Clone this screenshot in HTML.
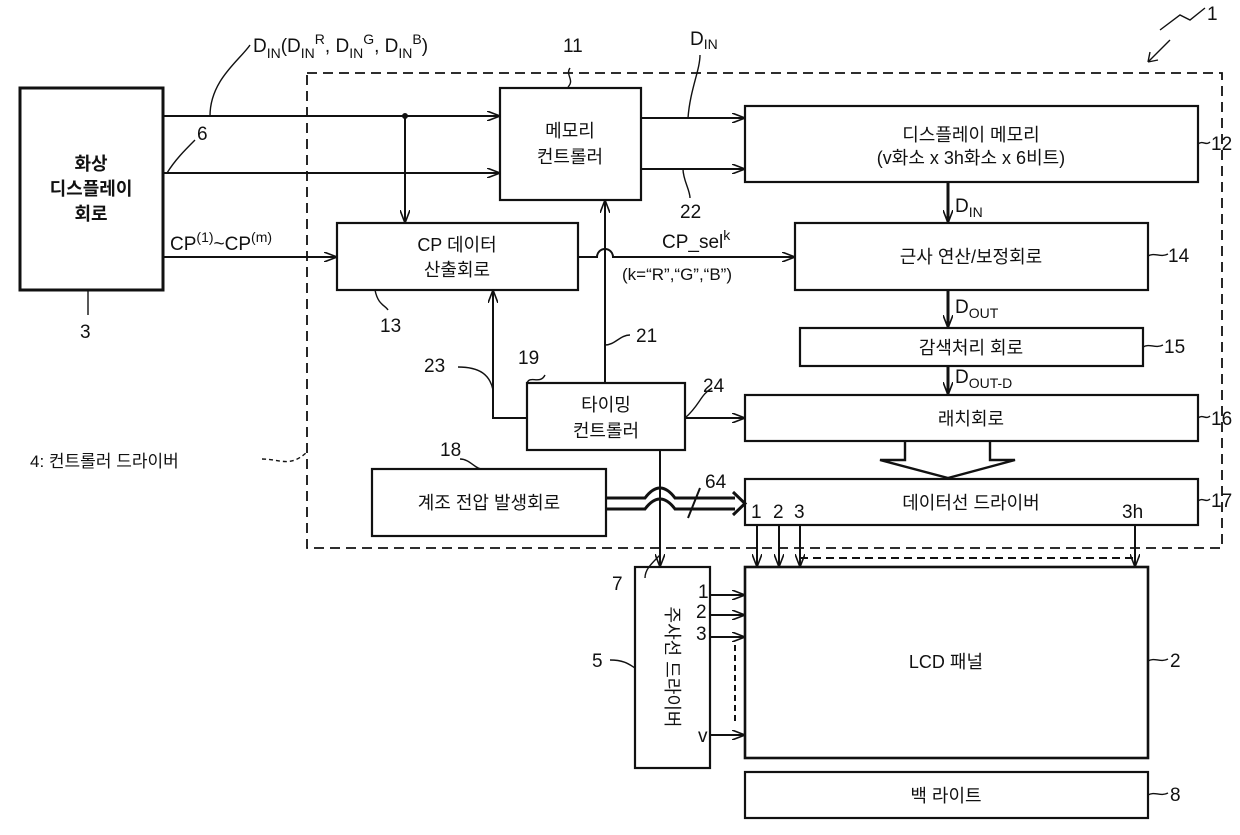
<!DOCTYPE html>
<html><head><meta charset="utf-8"><style>
body{margin:0;background:#fff}
svg{display:block}
text{font-family:"Liberation Sans","Noto Sans CJK KR",sans-serif;fill:#111}
.k{font-size:18px}
.n{font-size:19px;font-family:"Liberation Sans Narrow","Liberation Sans",sans-serif}
</style></head><body>
<svg width="1240" height="835" viewBox="0 0 1240 835" xmlns="http://www.w3.org/2000/svg">
<defs>
<marker id="a" markerWidth="14" markerHeight="10" refX="13" refY="5" orient="auto" markerUnits="userSpaceOnUse">
<path d="M0,0 L13,5 L0,10" fill="none" stroke="#111" stroke-width="1.6"/></marker>
</defs>
<g fill="none" stroke="#111" stroke-width="2.2">
<rect x="307" y="73" width="915" height="475" stroke-dasharray="10,6" stroke-width="1.8"/>
<rect x="20" y="88" width="143" height="202" stroke-width="3"/>
<rect x="500" y="88" width="141" height="112"/>
<rect x="745" y="106" width="453" height="76"/>
<rect x="337" y="223" width="241" height="67"/>
<rect x="795" y="223" width="353" height="67"/>
<rect x="800" y="328" width="343" height="38"/>
<rect x="745" y="395" width="453" height="46"/>
<rect x="527" y="383" width="158" height="67"/>
<rect x="372" y="469" width="234" height="67"/>
<rect x="745" y="479" width="453" height="46"/>
<rect x="745" y="567" width="403" height="191" stroke-width="2.6"/>
<rect x="635" y="567" width="75" height="201"/>
<rect x="745" y="772" width="403" height="46"/>
</g>
<g fill="none" stroke="#111" stroke-width="2">
<path d="M163,116 H500" marker-end="url(#a)"/>
<path d="M163,173 H500" marker-end="url(#a)"/>
<circle cx="405" cy="116" r="2" fill="#111"/>
<path d="M405,116 V223" marker-end="url(#a)"/>
<path d="M641,118 H745" marker-end="url(#a)"/>
<path d="M641,169 H745" marker-end="url(#a)"/>
<path d="M163,257 H337" marker-end="url(#a)"/>
<path d="M578,257 H597 A8,8 0 0 1 613,257 H795" marker-end="url(#a)"/>
<path d="M605,383 V200" marker-end="url(#a)"/>
<path d="M527,418 H493 V290" marker-end="url(#a)"/>
<path d="M685,418 H745" marker-end="url(#a)"/>
<path d="M660,450 V567" marker-end="url(#a)"/>
<path d="M948,182 V223" marker-end="url(#a)" stroke-width="3"/>
<path d="M948,290 V328" marker-end="url(#a)" stroke-width="3"/>
<path d="M948,366 V395" marker-end="url(#a)" stroke-width="3"/>
<path d="M905,441 V460 H880 L948,478 L1015,460 H990 V441" stroke-width="2.4"/>
<path d="M606,498 H645 Q660,478 675,498 H735 M606,509 H645 Q660,489 675,509 H735" stroke-width="3"/>
<path d="M733,492 L745,503.5 L733,515" stroke-width="3"/>
<path d="M688,518 L700,488"/>
<path d="M757,525 V567" marker-end="url(#a)"/>
<path d="M779,525 V567" marker-end="url(#a)"/>
<path d="M800,525 V567" marker-end="url(#a)"/>
<path d="M1135,525 V567" marker-end="url(#a)"/>
<path d="M800,558 H1135" stroke-dasharray="8,5"/>
<path d="M710,595 H745" marker-end="url(#a)"/>
<path d="M710,615 H745" marker-end="url(#a)"/>
<path d="M710,637 H745" marker-end="url(#a)"/>
<path d="M710,735 H745" marker-end="url(#a)"/>
<path d="M735,645 V725" stroke-dasharray="6,4"/>
</g>
<g fill="none" stroke="#111" stroke-width="1.4">
<path d="M210,116 C210,80 240,60 250,45"/>
<path d="M167,173 C175,160 185,150 195,140"/>
<path d="M568,87 C575,80 565,75 570,68"/>
<path d="M688,118 C690,90 700,70 700,55"/>
<path d="M683,169 C683,180 690,190 690,198"/>
<path d="M88,290 V315"/>
<path d="M375,290 C378,305 385,305 388,310"/>
<path d="M1198,144 C1203,140 1206,146 1210,142"/>
<path d="M1148,256 C1155,252 1160,258 1168,254"/>
<path d="M1143,347 C1150,343 1155,349 1163,345"/>
<path d="M1198,418 C1203,414 1206,420 1210,416"/>
<path d="M1198,501 C1203,497 1206,503 1210,499"/>
<path d="M1148,661 C1155,657 1160,663 1168,659"/>
<path d="M1148,795 C1155,791 1160,797 1168,793"/>
<path d="M605,345 C615,345 620,335 630,335"/>
<path d="M458,367 C480,367 490,375 493,390"/>
<path d="M527,383 C530,375 540,385 545,375"/>
<path d="M685,418 C700,405 700,395 712,388"/>
<path d="M460,459 C470,459 475,469 482,469"/>
<path d="M660,555 C650,565 645,570 645,578"/>
<path d="M610,660 C625,660 630,665 635,668"/>
<path d="M262,459 C280,459 290,468 307,452" stroke-dasharray="4,3"/>
<path d="M1160,30 L1180,15 L1190,20 L1205,8"/>
<path d="M1148,62 L1170,40 M1148,62 L1150,52 M1148,62 L1158,60"/>
</g>
<g class="k" text-anchor="middle" font-weight="bold">
<text x="91" y="170">화상</text><text x="91" y="195">디스플레이</text><text x="91" y="220">회로</text>
</g>
<g class="k" text-anchor="middle">
<text x="570" y="137">메모리</text><text x="570" y="163">컨트롤러</text>
<text x="971" y="141">디스플레이 메모리</text><text x="971" y="164">(v화소 x 3h화소 x 6비트)</text>
<text x="457" y="251">CP 데이터</text><text x="457" y="276">산출회로</text>
<text x="971" y="263">근사 연산/보정회로</text>
<text x="971" y="354">감색처리 회로</text>
<text x="971" y="425">래치회로</text>
<text x="606" y="411">타이밍</text><text x="606" y="437">컨트롤러</text>
<text x="489" y="509">계조 전압 발생회로</text>
<text x="971" y="509">데이터선 드라이버</text>
<text x="946" y="668">LCD 패널</text>
<text x="946" y="802">백 라이트</text>
<text x="666" y="667" transform="rotate(90 666 667)">주사선 드라이버</text>
</g>
<g class="n">
<text x="253" y="52">D<tspan font-size="14" dy="6">IN</tspan><tspan dy="-6">(D</tspan><tspan font-size="14" dy="6">IN</tspan><tspan font-size="14" dy="-14">R</tspan><tspan dy="8">, D</tspan><tspan font-size="14" dy="6">IN</tspan><tspan font-size="14" dy="-14">G</tspan><tspan dy="8">, D</tspan><tspan font-size="14" dy="6">IN</tspan><tspan font-size="14" dy="-14">B</tspan><tspan dy="8">)</tspan></text>
<text x="563" y="52">11</text>
<text x="690" y="45">D<tspan font-size="14" dy="4">IN</tspan></text>
<text x="197" y="140">6</text>
<text x="680" y="218">22</text>
<text x="170" y="250">CP<tspan font-size="14" dy="-8">(1)</tspan><tspan dy="8">~CP</tspan><tspan font-size="14" dy="-8">(m)</tspan></text>
<text x="662" y="248">CP_sel<tspan font-size="14" dy="-8">k</tspan></text>
<text x="622" y="280" font-size="17">(k=“R”,“G”,“B”)</text>
<text x="955" y="212">D<tspan font-size="14" dy="5">IN</tspan></text>
<text x="955" y="313">D<tspan font-size="14" dy="5">OUT</tspan></text>
<text x="955" y="383">D<tspan font-size="14" dy="5">OUT-D</tspan></text>
<text x="80" y="338">3</text>
<text x="380" y="332">13</text>
<text x="636" y="342">21</text>
<text x="424" y="372">23</text>
<text x="518" y="364">19</text>
<text x="703" y="392">24</text>
<text x="440" y="456">18</text>
<text x="705" y="488">64</text>
<text x="1211" y="150">12</text>
<text x="1168" y="262">14</text>
<text x="1164" y="353">15</text>
<text x="1211" y="425">16</text>
<text x="1211" y="507">17</text>
<text x="1170" y="667">2</text>
<text x="1170" y="801">8</text>
<text x="1207" y="20">1</text>
<text x="30" y="467" font-size="17">4: <tspan font-family="Liberation Sans,Noto Sans CJK KR,sans-serif" font-size="17">컨트롤러 드라이버</tspan></text>
<text x="612" y="590">7</text>
<text x="592" y="667">5</text>
<text x="751" y="518">1</text><text x="773" y="518">2</text><text x="794" y="518">3</text><text x="1122" y="518">3h</text>
<text x="698" y="598">1</text><text x="696" y="618">2</text><text x="696" y="640">3</text><text x="698" y="742">v</text>
</g>
</svg>
</body></html>
